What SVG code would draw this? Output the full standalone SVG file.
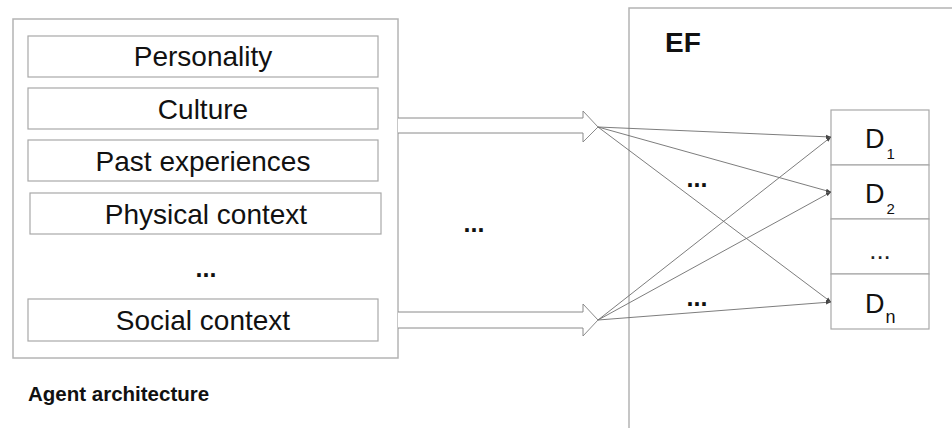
<svg xmlns="http://www.w3.org/2000/svg" width="952" height="428" viewBox="0 0 952 428">
  <style>
    .frame { fill: #fff; stroke: #b4b4b4; stroke-width: 1.5; }
    .box { fill: #fff; stroke: #a8a8a8; stroke-width: 1.2; }
    .label { font-family: "Liberation Sans", Arial, sans-serif; font-size: 28px; fill: #111; text-anchor: middle; }
    .bold { font-family: "Liberation Sans", Arial, sans-serif; font-weight: bold; fill: #111; }
    .dots { font-family: "Liberation Sans", Arial, sans-serif; font-weight: bold; font-size: 25px; fill: #111; text-anchor: middle; }
    .block { fill: #fff; stroke: #8a8a8a; stroke-width: 1; }
    .link { stroke: #6e6e6e; stroke-width: 0.9; fill: none; marker-end: url(#tip); }
    .dlabel { font-family: "Liberation Sans", Arial, sans-serif; font-size: 27px; fill: #111; }
    .sub { font-size: 15px; }
    .subn { font-size: 18px; }
  </style>
  <defs>
    <marker id="tip" viewBox="0 0 10 10" refX="10" refY="5" markerWidth="5" markerHeight="5" markerUnits="userSpaceOnUse" orient="auto">
      <path d="M0,1 L10,5 L0,9 z" fill="#444"/>
    </marker>
  </defs>
  <rect width="952" height="428" fill="#fff"/>

  <!-- Agent architecture -->
  <g id="agent">
    <rect class="frame" x="13" y="19" width="385" height="339"/>
    <text class="bold" x="28" y="401" font-size="20.5">Agent architecture</text>
  </g>
  <g id="personality">
    <rect class="box" x="28" y="36" width="350" height="41"/>
    <text class="label" x="203" y="66">Personality</text>
  </g>
  <g id="culture">
    <rect class="box" x="28" y="88" width="350" height="41"/>
    <text class="label" x="203" y="119">Culture</text>
  </g>
  <g id="past">
    <rect class="box" x="28" y="140" width="350" height="41"/>
    <text class="label" x="203" y="171">Past experiences</text>
  </g>
  <g id="physical">
    <rect class="box" x="30" y="193" width="351" height="41"/>
    <text class="label" x="206" y="224">Physical context</text>
  </g>
  <text class="dots" x="206" y="277">...</text>
  <g id="social">
    <rect class="box" x="28" y="299" width="350" height="42"/>
    <text class="label" x="203" y="330">Social context</text>
  </g>

  <!-- EF -->
  <g id="ef">
    <rect class="frame" x="629" y="8" width="340" height="440"/>
    <text class="bold" x="665" y="52" font-size="28">EF</text>
  </g>
  <g id="d1">
    <rect class="box" x="831" y="110" width="98" height="55"/>
    <text class="dlabel" x="865" y="148">D<tspan class="sub" dx="2" dy="11">1</tspan></text>
  </g>
  <g id="d2">
    <rect class="box" x="831" y="165" width="98" height="54"/>
    <text class="dlabel" x="865" y="203">D<tspan class="sub" dx="2" dy="11">2</tspan></text>
  </g>
  <g id="dmore">
    <rect class="box" x="831" y="219" width="98" height="55"/>
    <text x="880" y="259" font-family="Liberation Sans, Arial, sans-serif" font-size="26" fill="#222" text-anchor="middle">...</text>
  </g>
  <g id="dn">
    <rect class="box" x="831" y="274" width="98" height="55"/>
    <text class="dlabel" x="865" y="313">D<tspan class="subn" dx="1" dy="10">n</tspan></text>
  </g>

  <!-- Connectors -->
  <g id="connectors">
    <path class="block" d="M398,118 H583 V111 L598,127 L583,142 V133 H398"/>
    <path class="block" d="M398,312 H583 V304 L598,320 L583,336 V328 H398"/>
    <line class="link" x1="598" y1="127" x2="831" y2="137"/>
    <line class="link" x1="598" y1="127" x2="831" y2="192"/>
    <line class="link" x1="598" y1="127" x2="831" y2="302"/>
    <line class="link" x1="598" y1="320" x2="831" y2="137"/>
    <line class="link" x1="598" y1="320" x2="831" y2="192"/>
    <line class="link" x1="598" y1="320" x2="831" y2="302"/>
    <text class="dots" x="474" y="232">...</text>
    <text class="dots" x="697" y="187">...</text>
    <text class="dots" x="697" y="306">...</text>
  </g>
</svg>
